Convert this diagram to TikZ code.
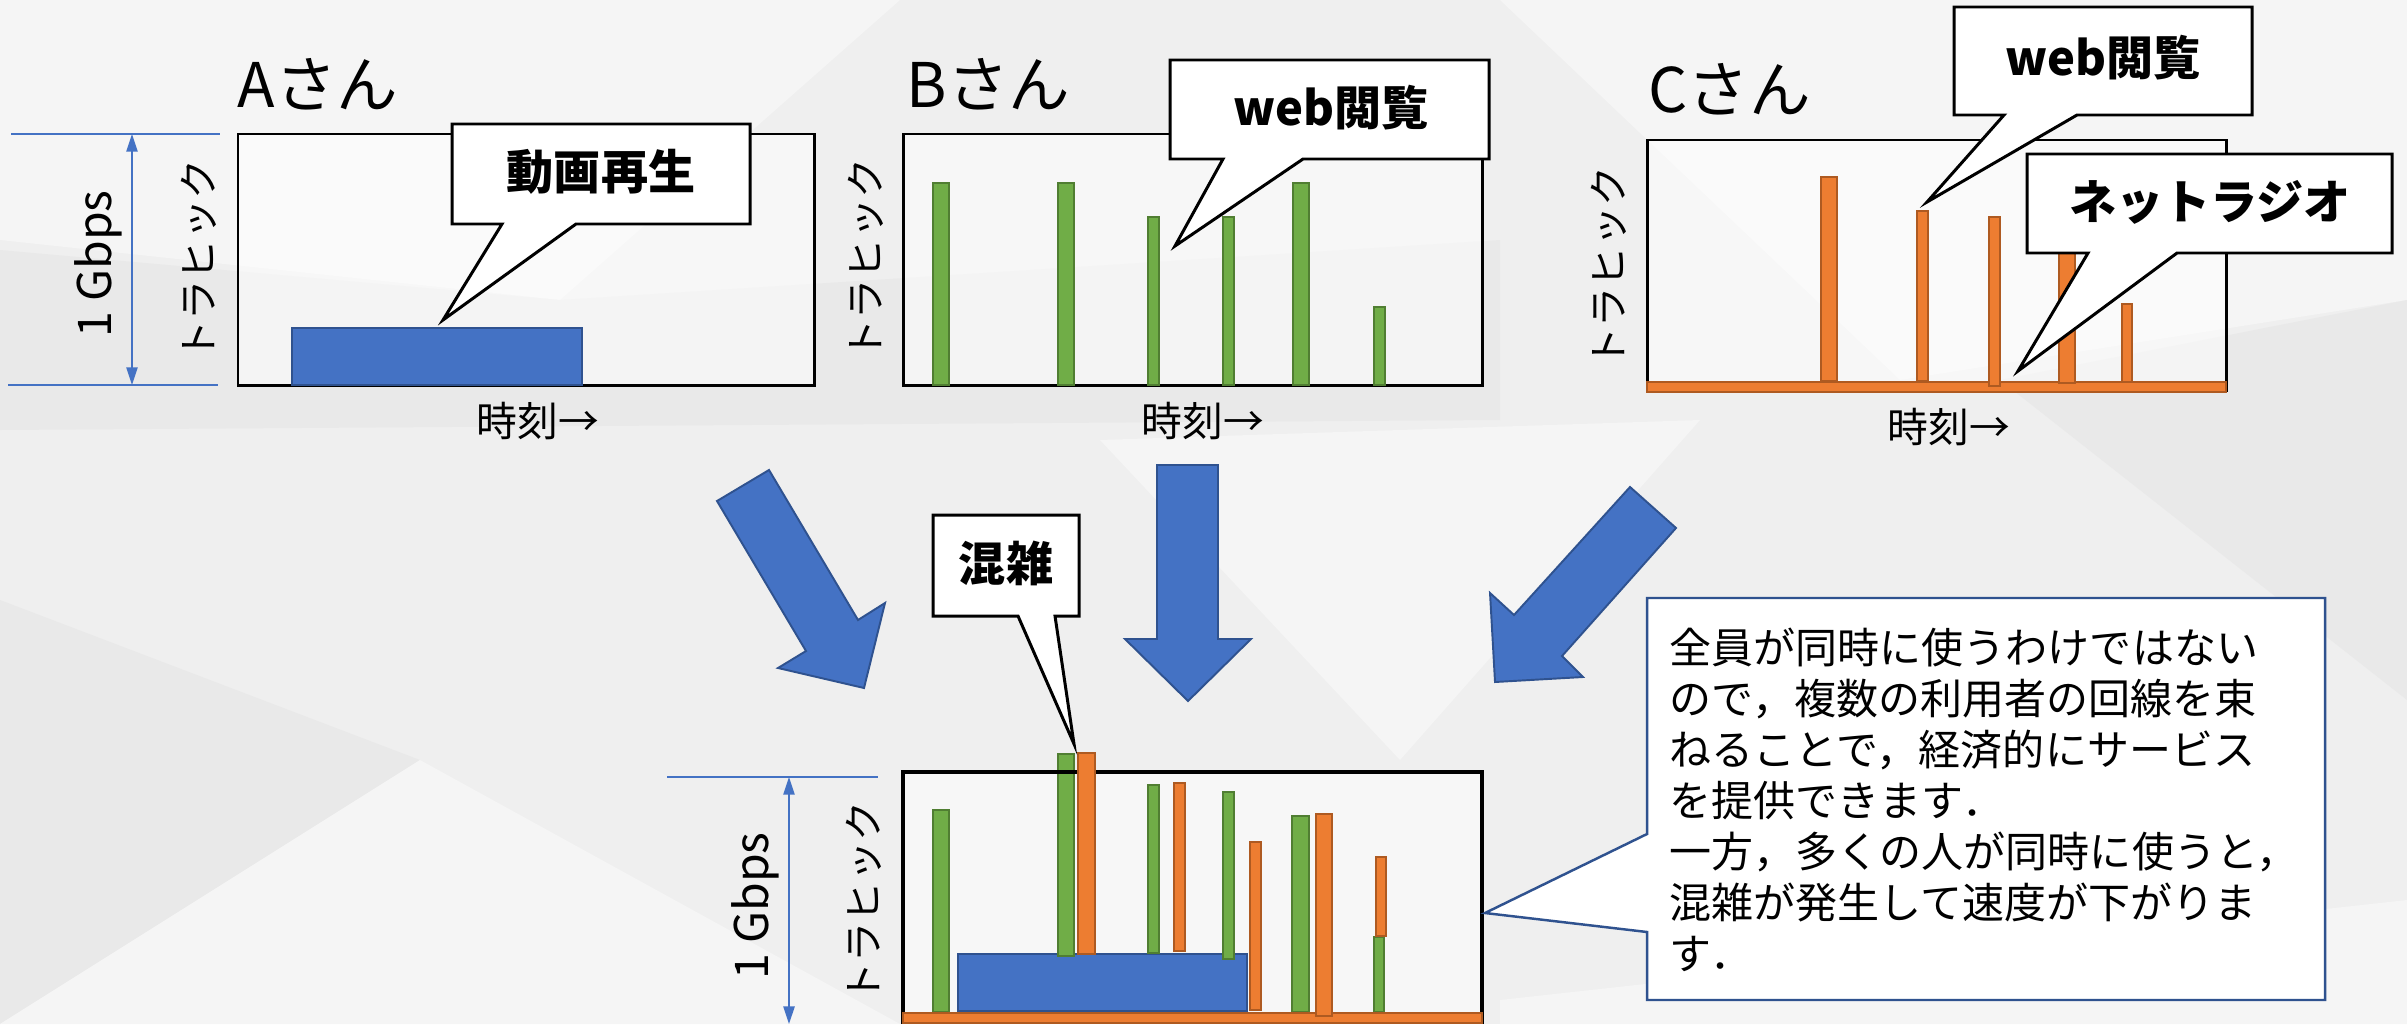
\documentclass[tikz,border=0pt]{standalone}
\usepackage{fontspec}
\setmainfont{Noto Sans CJK JP}
\usetikzlibrary{arrows.meta}
\definecolor{blu}{HTML}{4472C4}
\definecolor{blud}{HTML}{2F528F}
\definecolor{grn}{HTML}{70AD47}
\definecolor{grnd}{HTML}{507E32}
\definecolor{org}{HTML}{ED7D31}
\definecolor{orgd}{HTML}{AE5A21}
\definecolor{bgbase}{HTML}{EFEFEF}
\definecolor{bgl}{HTML}{F5F5F5}
\definecolor{bgd}{HTML}{E9E9E9}
\tikzset{
  ttl/.style={font=\fontsize{17.5pt}{20pt}\selectfont, inner sep=0pt, anchor=base west},
  axlbl/.style={font=\fontsize{11.6pt}{13pt}\selectfont, inner sep=0pt},
  vlbl/.style={font=\fontsize{11.4pt}{13pt}\selectfont, inner sep=0pt, rotate=90},
  gblbl/.style={font=\fontsize{13.2pt}{15pt}\selectfont, inner sep=0pt, rotate=90},
  cbtext/.style={font=\bfseries\fontsize{13.4pt}{16pt}\selectfont, inner sep=0pt},
  bodytext/.style={font=\fontsize{11.95pt}{14.5pt}\selectfont, inner sep=0pt, anchor=base west},
  chartbox/.style={draw=black, line width=0.85pt, fill=white, fill opacity=0.5},
  gbar/.style={fill=grn, draw=grnd, line width=0.55pt},
  obar/.style={fill=org, draw=orgd, line width=0.55pt},
  bbar/.style={fill=blu, draw=blud, line width=0.55pt},
  callout/.style={fill=white, draw=black, line width=0.85pt, line join=miter},
  bigcallout/.style={fill=white, draw=blud, line width=0.7pt, line join=miter},
  blockarrow/.style={fill=blu, draw=blud, line width=0.55pt, line join=miter},
  dimline/.style={draw=blu, line width=0.45pt},
  dimarrow/.style={draw=blu, line width=0.45pt, {Triangle[length=5pt,width=3.2pt]}-{Triangle[length=5pt,width=3.2pt]}},
}
\begin{document}
\begin{tikzpicture}[x=0.01cm, y=-0.01cm]
\useasboundingbox (0,0) rectangle (2407,1024);
% background
\fill[bgbase] (0,0) rectangle (2407,1024);
\fill[bgl] (0,0) -- (900,0) -- (560,300) -- (0,240) -- cycle;
\fill[bgd] (0,250) -- (560,300) -- (1500,240) -- (1500,420) -- (0,430) -- cycle;
\fill[bgl] (1500,0) -- (2407,0) -- (2407,300) -- (1900,380) -- cycle;
\fill[bgd] (0,600) -- (420,760) -- (0,1024) -- cycle;
\fill[bgl] (420,760) -- (900,1024) -- (0,1024) -- cycle;
\fill[bgl] (1100,440) -- (1700,420) -- (1400,760) -- cycle;
\fill[bgd] (2000,380) -- (2407,300) -- (2407,700) -- cycle;
\fill[bgl] (1500,1000) -- (2407,900) -- (2407,1024) -- (1500,1024) -- cycle;

% ===== Panel A =====
\node[ttl] (tA) at (237,107) {Aさん};
\draw[chartbox] (238,134) rectangle (814,385);
\draw[bbar] (292,328) rectangle (582,385);
\draw[callout] (452,124) -- (750,124) -- (750,224) -- (576,224) -- (443,320) -- (502,224) -- (452,224) -- cycle;
\node[cbtext] (cA) at (601,172) {動画再生};
\node[axlbl] (xA) at (538,421) {時刻→};
\node[vlbl] (yA) at (199,260) {トラヒック};
\coordinate (gAt) at (132,134);
\coordinate (gAb) at (132,385);
\coordinate (gAtl) at (11,134);
\coordinate (gAtr) at (220,134);
\coordinate (gAbl) at (8,385);
\coordinate (gAbr) at (218,385);
\draw[dimline] (gAtl) -- (gAtr);
\draw[dimline] (gAbl) -- (gAbr);
\draw[dimarrow] (gAt) -- (gAb);
\node[gblbl] (gbA) at (98,264) {1 Gbps};

% ===== Panel B =====
\node[ttl] (tB) at (906,107) {Bさん};
\draw[chartbox] (903,134) rectangle (1482,385);
\draw[gbar] (933,183) rectangle (949,385);
\draw[gbar] (1058,183) rectangle (1074,385);
\draw[gbar] (1148,217) rectangle (1159,385);
\draw[gbar] (1223,217) rectangle (1234,385);
\draw[gbar] (1293,183) rectangle (1309,385);
\draw[gbar] (1374,307) rectangle (1385,385);
\draw[callout] (1170,60) -- (1489,60) -- (1489,159) -- (1303,159) -- (1175,246) -- (1223,159) -- (1170,159) -- cycle;
\node[cbtext] (cB) at (1331,108) {web閲覧};
\node[axlbl] (xB) at (1203,421) {時刻→};
\node[vlbl] (yB) at (866,259) {トラヒック};

% ===== Panel C =====
\node[ttl] (tC) at (1648,112) {Cさん};
\draw[chartbox] (1647,140) rectangle (2226,390);
\draw[obar] (1647,382) rectangle (2226,392);
\draw[obar] (1821,177) rectangle (1837,381);
\draw[obar] (1917,211) rectangle (1928,381);
\draw[obar] (1989,217) rectangle (2000,386);
\draw[obar] (2059,180) rectangle (2075,383);
\draw[obar] (2122,304) rectangle (2132,382);
\draw[callout] (1954,7) -- (2252,7) -- (2252,115) -- (2077,115) -- (1927,202) -- (2004,115) -- (1954,115) -- cycle;
\node[cbtext] (cC1) at (2103,58) {web閲覧};
\draw[callout] (2027,154) -- (2392,154) -- (2392,253) -- (2177,253) -- (2018,371) -- (2088,253) -- (2027,253) -- cycle;
\node[cbtext] (cC2) at (2210,202) {ネットラジオ};
\node[axlbl] (xC) at (1949,427) {時刻→};
\node[vlbl] (yC) at (1609,267) {トラヒック};

% ===== Block arrows =====
\draw[blockarrow] (717,501) -- (769,470) -- (858,620) -- (885,603) -- (864,688) -- (778,668) -- (806,651) -- cycle;
\draw[blockarrow] (1157,465) -- (1218,465) -- (1218,639) -- (1251,639) -- (1188,701) -- (1125,639) -- (1157,639) -- cycle;
\draw[blockarrow] (1630,487) -- (1676,528) -- (1562,656) -- (1583,677) -- (1495,682) -- (1490,593) -- (1514,615) -- cycle;

% ===== Combined chart =====
\fill[white, fill opacity=0.5] (903,772) rectangle (1482,1022);
\draw[bbar] (958,954) rectangle (1247,1011);
\draw[gbar] (933,810) rectangle (949,1012);
\draw[gbar] (1058,754) rectangle (1074,956);
\draw[gbar] (1148,785) rectangle (1159,953);
\draw[gbar] (1223,792) rectangle (1234,959);
\draw[gbar] (1292,816) rectangle (1309,1012);
\draw[gbar] (1374,937) rectangle (1384,1012);
\draw[black, line width=1.2pt] (903,772) rectangle (1482,1022);
\draw[obar] (903,1013) rectangle (1482,1023);
\draw[obar] (1078,753) rectangle (1095,954);
\draw[obar] (1174,783) rectangle (1185,951);
\draw[obar] (1250,842) rectangle (1261,1010);
\draw[obar] (1316,814) rectangle (1332,1016);
\draw[obar] (1376,857) rectangle (1386,936);
\draw[callout] (933,515) -- (1079,515) -- (1079,616) -- (1055,616) -- (1074,744) -- (1018,616) -- (933,616) -- cycle;
\node[cbtext] (cD) at (1006,563) {混雑};
\node[vlbl] (yD) at (864,902) {トラヒック};
\coordinate (gDt) at (789,777);
\coordinate (gDb) at (789,1024);
\coordinate (gDtl) at (667,777);
\coordinate (gDtr) at (878,777);
\draw[dimline] (gDtl) -- (gDtr);
\draw[dimarrow] (gDt) -- (gDb);
\node[gblbl] (gbD) at (755,906) {1 Gbps};

% ===== Explanation callout =====
\draw[bigcallout] (1647,598) -- (2325,598) -- (2325,1000) -- (1647,1000) -- (1647,932) -- (1485,913) -- (1647,834) -- cycle;
\node[bodytext] (t1) at (1669,663) {全員が同時に使うわけではない};
\node[bodytext] (t2) at (1669,714) {ので，複数の利用者の回線を束};
\node[bodytext] (t3) at (1669,765) {ねることで，経済的にサービス};
\node[bodytext] (t4) at (1669,816) {を提供できます．};
\node[bodytext] (t5) at (1669,867) {一方，多くの人が同時に使うと，};
\node[bodytext] (t6) at (1669,918) {混雑が発生して速度が下がりま};
\node[bodytext] (t7) at (1669,969) {す．};
\end{tikzpicture}
\end{document}
